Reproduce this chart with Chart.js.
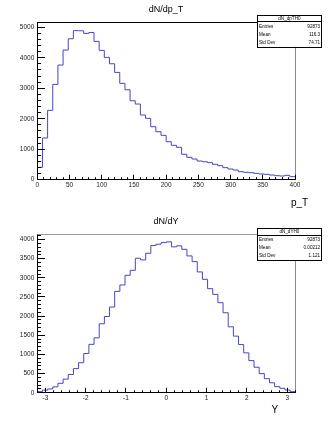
<!DOCTYPE html>
<html><head><meta charset="utf-8">
<script src="https://cdn.jsdelivr.net/npm/chart.js@4.4.1/dist/chart.umd.min.js"></script>
<style>
html,body{margin:0;padding:0;background:#fff;width:332px;height:423px;overflow:hidden}
canvas{position:absolute;left:0;display:block}
</style></head>
<body>
<canvas id="c1" width="332" height="211" style="top:0px"></canvas>
<canvas id="c2" width="332" height="212" style="top:211px"></canvas>
<script>
// ---- data: dN/dp_T histogram (50 bins, 0..400) ----
const ptBinLow = 0;
const ptBinWidth = 8;
const ptCounts = [405,1367,2275,3127,3760,4252,4623,4890,4885,4800,
                  4830,4537,4242,4013,3803,3520,3160,2950,2590,2482,
                  2121,2013,1738,1574,1455,1246,1128,1062,833,734,
                  679,613,590,560,505,460,395,350,318,263,
                  242,230,209,187,176,154,132,121,143,99];
const ptXTicks = [0,50,100,150,200,250,300,350,400];
const ptYTicks = [0,1000,2000,3000,4000,5000];
const ptStatLabels = ['Entries','Mean','Std Dev'];
const ptStatValues = ['92873','116.3','74.71'];

// ---- data: dN/dY histogram (50 bins, -3.2..3.2) ----
const yBinLow = -3.2;
const yBinWidth = 0.128;
const yCounts = [30,70,100,155,248,357,478,631,785,1025,
                 1265,1434,1801,1992,2238,2647,2814,3066,3197,3511,
                 3468,3641,3843,3877,3921,3939,3809,3835,3745,3572,
                 3424,3154,2961,2717,2568,2351,2089,1722,1479,1259,
                 1042,840,667,500,369,261,160,118,73,29];
const yXTicks = [-3,-2,-1,0,1,2,3];
const yYTicks = [0,500,1000,1500,2000,2500,3000,3500,4000];
const yStatLabels = ['Entries','Mean','Std Dev'];
const yStatValues = ['92873','0.00212','1.121'];

const FONT = "'Liberation Sans', Arial, Helvetica, sans-serif";
const LINE = '#4646c6';

function histPoints(low, w, counts) {
  const pts = counts.map((c, i) => ({x: low + i * w, y: c}));
  pts.push({x: low + counts.length * w, y: counts[counts.length - 1]});
  return pts;
}

const crisp = v => Math.floor(v) + 0.5;

const rootPad = {
  id: 'rootPad',
  afterDraw(chart, args, o) {
    const ctx = chart.ctx, a = chart.chartArea;
    const xs = chart.scales.x, ys = chart.scales.y;
    ctx.save();
    ctx.lineWidth = 1;
    // frame top and right
    ctx.strokeStyle = o.topColor;
    ctx.beginPath(); ctx.moveTo(crisp(a.left), crisp(a.top)); ctx.lineTo(crisp(a.right), crisp(a.top)); ctx.stroke();
    ctx.strokeStyle = '#8a8a8a';
    ctx.beginPath(); ctx.moveTo(crisp(a.right), crisp(a.top)); ctx.lineTo(crisp(a.right), crisp(a.bottom)); ctx.stroke();
    // inner ticks
    ctx.strokeStyle = '#000';
    const drawX = (v, len) => {
      const p = crisp(xs.getPixelForValue(v));
      ctx.beginPath(); ctx.moveTo(p, a.bottom); ctx.lineTo(p, a.bottom - len); ctx.stroke();
    };
    const drawY = (v, len) => {
      const p = crisp(ys.getPixelForValue(v));
      ctx.beginPath(); ctx.moveTo(a.left, p); ctx.lineTo(a.left + len, p); ctx.stroke();
    };
    for (let k = 0; ; k++) {
      const v = o.xMinorStart + k * o.xMinor;
      if (v > xs.max + 1e-9) break;
      if (v >= xs.min - 1e-9) drawX(v, 2.5);
    }
    o.xMajor.forEach(v => drawX(v, 5));
    for (let k = 0; ; k++) {
      const v = k * o.yMinor;
      if (v > ys.max) break;
      drawY(v, 3.8);
    }
    o.yMajor.forEach(v => drawY(v, 7.7));
    // titles
    ctx.fillStyle = '#000';
    ctx.textBaseline = 'middle';
    ctx.font = '9px ' + FONT;
    ctx.textAlign = 'center';
    ctx.fillText(o.title, 166, o.titleY);
    ctx.font = '10px ' + FONT;
    ctx.textAlign = 'left';
    ctx.fillText(o.axisTitle, o.axisTitleX, o.axisTitleY);
    // stats box
    const b = o.box;
    ctx.fillStyle = '#fff';
    ctx.fillRect(b.l, b.t, b.r - b.l, b.b - b.t);
    ctx.strokeStyle = '#000';
    ctx.strokeRect(crisp(b.l), crisp(b.t), Math.round(b.r - b.l), Math.round(b.b - b.t));
    ctx.beginPath(); ctx.moveTo(b.l, crisp(b.div)); ctx.lineTo(b.r, crisp(b.div)); ctx.stroke();
    ctx.fillStyle = '#000';
    ctx.font = '4.6px ' + FONT;
    ctx.textAlign = 'center';
    ctx.fillText(o.statName, (b.l + b.r) / 2, b.titleY);
    o.statLabels.forEach((lab, i) => {
      ctx.textAlign = 'left';
      ctx.fillText(lab, b.l + 1.5, b.rowY[i]);
      ctx.textAlign = 'right';
      ctx.fillText(o.statValues[i], b.r - 1.2, b.rowY[i]);
    });
    ctx.restore();
  }
};

function makeChart(id, cfg) {
  return new Chart(document.getElementById(id), {
    type: 'line',
    data: {datasets: [{
      data: histPoints(cfg.low, cfg.width, cfg.counts),
      stepped: 'before', borderColor: LINE, borderWidth: 1,
      pointRadius: 0, fill: false, tension: 0
    }]},
    options: {
      responsive: false, animation: false, devicePixelRatio: 1,
      layout: {padding: {left: 0, top: cfg.area.top, right: cfg.w - cfg.area.right, bottom: 0}},
      plugins: {legend: {display: false}, tooltip: {enabled: false}, title: {display: false},
        rootPad: cfg.pad},
      scales: {
        x: {
          type: 'linear', min: cfg.xmin, max: cfg.xmax,
          grid: {display: false, drawTicks: false},
          border: {display: true, color: '#000', width: 1},
          afterFit: s => { s.height = cfg.h - cfg.area.bottom; },
          afterBuildTicks: s => { s.ticks = cfg.xTicks.map(v => ({value: v})); },
          ticks: {padding: cfg.xPad, maxRotation: 0, autoSkip: false, color: '#222',
            font: {size: 6.5, family: FONT}, callback: v => String(v)}
        },
        y: {
          type: 'linear', min: 0, max: cfg.ymax,
          grid: {display: false, drawTicks: false},
          border: {display: true, color: '#000', width: 1},
          afterFit: s => { s.width = cfg.area.left; },
          afterBuildTicks: s => { s.ticks = cfg.yTicks.map(v => ({value: v})); },
          ticks: {padding: 3, color: '#222', font: {size: 6.5, family: FONT}, callback: v => String(v)}
        }
      }
    },
    plugins: [rootPad]
  });
}

makeChart('c1', {
  low: ptBinLow, width: ptBinWidth, counts: ptCounts,
  xmin: 0, xmax: 400, ymax: 5150, xTicks: ptXTicks, yTicks: ptYTicks,
  w: 332, h: 211, area: {left: 37.3, right: 295, top: 22.7, bottom: 179.7}, xPad: 2,
  pad: {
    topColor: '#000', xMinorStart: 0, xMinor: 10, xMajor: ptXTicks, yMinor: 200, yMajor: ptYTicks,
    title: 'dN/dp_T', titleY: 10, axisTitle: 'p_T', axisTitleX: 291, axisTitleY: 203,
    statName: 'dN_dpTH0', statLabels: ptStatLabels, statValues: ptStatValues,
    box: {l: 257.5, t: 15, r: 321.3, b: 46.7, div: 21.7, titleY: 18.5, rowY: [27, 34.6, 42.4]}
  }
});

makeChart('c2', {
  low: yBinLow, width: yBinWidth, counts: yCounts,
  xmin: -3.2, xmax: 3.2, ymax: 4136, xTicks: yXTicks, yTicks: yYTicks,
  w: 332, h: 212, area: {left: 37.3, right: 295.3, top: 23.3, bottom: 181.8}, xPad: 1.5,
  pad: {
    topColor: '#9a9a9a', xMinorStart: -3.2, xMinor: 0.2, xMajor: yXTicks, yMinor: 100, yMajor: yYTicks,
    title: 'dN/dY', titleY: 10.7, axisTitle: 'Y', axisTitleX: 271.5, axisTitleY: 199,
    statName: 'dN_dYH0', statLabels: yStatLabels, statValues: yStatValues,
    box: {l: 257.5, t: 17.3, r: 321.3, b: 49, div: 24, titleY: 20.8, rowY: [29.2, 36.9, 45]}
  }
});
</script>
</body></html>
